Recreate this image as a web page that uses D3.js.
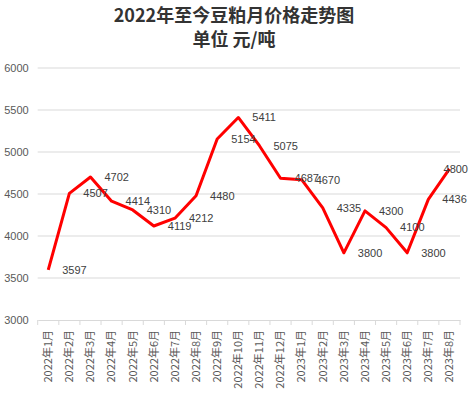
<!DOCTYPE html>
<meta charset="utf-8">
<style>
  body { margin: 0; background: #fff; }
</style>
<body>
<script src="https://cdn.jsdelivr.net/npm/d3@7"></script>
<script>

var months = ["2022年1月", "2022年2月", "2022年3月", "2022年4月", "2022年5月",
              "2022年6月", "2022年7月", "2022年8月", "2022年9月", "2022年10月",
              "2022年11月", "2022年12月", "2023年1月", "2023年2月", "2023年3月",
              "2023年4月", "2023年5月", "2023年6月", "2023年7月", "2023年8月"];
var prices = [3597, 4507, 4702, 4414, 4310, 4119, 4212, 4480, 5154, 5411,
              5075, 4687, 4670, 4335, 3800, 4300, 4100, 3800, 4436, 4800];
var yTicks = [3000, 3500, 4000, 4500, 5000, 5500, 6000];

var width = 475, height = 399;
var plotLeft = 37.7, plotRight = 460, plotTop = 68, plotBottom = 320;
var labelLimit = 468;   // data labels are kept inside the chart area

var svg = d3.select("body").append("svg")
            .attr("width", width)
            .attr("height", height);

var x = d3.scaleBand()
          .domain(months)
          .range([plotLeft, plotRight]);

var y = d3.scaleLinear()
          .domain([3000, 6000])
          .range([plotBottom, plotTop]);

// title
svg.append("text")
   .attr("x", 234)
   .attr("y", 22)
   .attr("text-anchor", "middle")
   .style("font-family", "'Noto Sans CJK SC'")
   .style("font-weight", "bold")
   .style("font-size", "18px")
   .attr("fill", "#333")
   .text("2022年至今豆粕月价格走势图");

svg.append("text")
   .attr("x", 234)
   .attr("y", 46)
   .attr("text-anchor", "middle")
   .style("font-family", "'Noto Sans CJK SC'")
   .style("font-weight", "bold")
   .style("font-size", "18px")
   .attr("fill", "#333")
   .text("单位 元/吨");

// gridlines
svg.append("g")
   .selectAll("line")
   .data(yTicks.filter(function(d){ return d > 3000; }))
   .enter().append("line")
   .attr("x1", plotLeft)
   .attr("x2", plotRight)
   .attr("y1", function(d){ return y(d); })
   .attr("y2", function(d){ return y(d); })
   .attr("stroke", "#d9d9d9")
   .attr("stroke-width", 1);

// y axis
var yAxis = svg.append("g")
   .attr("transform", "translate(" + plotLeft + ",0)")
   .call(d3.axisLeft(y).tickValues(yTicks).tickSize(0).tickPadding(9)
           .tickFormat(d3.format("d")));
yAxis.select(".domain").remove();
yAxis.selectAll("text")
     .style("font-family", "'Liberation Sans'")
     .style("font-size", "11px")
     .attr("fill", "#595959");

// x axis
var xAxis = svg.append("g")
   .attr("transform", "translate(0," + plotBottom + ")")
   .call(d3.axisBottom(x).tickSize(0));
xAxis.select(".domain").attr("stroke", "#d9d9d9");
xAxis.selectAll("g.tick line").remove();

xAxis.selectAll("line.sep")
     .data(d3.range(months.length + 1))
     .enter().append("line")
     .attr("class", "sep")
     .attr("x1", function(i){ return plotLeft + i * x.step(); })
     .attr("x2", function(i){ return plotLeft + i * x.step(); })
     .attr("y1", 0)
     .attr("y2", 5)
     .attr("stroke", "#d9d9d9");

xAxis.selectAll("g.tick text")
     .attr("transform", "rotate(-90)")
     .attr("x", -10)
     .attr("y", 0)
     .attr("dy", "0.35em")
     .attr("text-anchor", "end")
     .style("font-family", "'Noto Sans CJK SC'")
     .style("font-size", "11px")
     .attr("fill", "#595959");

// price line
var line = d3.line()
             .x(function(d, i){ return x(months[i]) + x.bandwidth() / 2; })
             .y(function(d){ return y(d); });

svg.append("path")
   .datum(prices)
   .attr("d", line)
   .attr("fill", "none")
   .attr("stroke", "#ff0000")
   .attr("stroke-width", 3)
   .attr("stroke-linejoin", "round");

// data labels, to the right of each point
svg.append("g")
   .selectAll("text")
   .data(prices)
   .enter().append("text")
   .attr("x", function(d, i){ return x(months[i]) + x.bandwidth() / 2 + 14; })
   .attr("y", function(d){ return y(d); })
   .attr("dy", "0.35em")
   .style("font-family", "'Liberation Sans'")
   .style("font-size", "11px")
   .attr("fill", "#404040")
   .text(function(d){ return d; })
   .each(function(){
      var t = d3.select(this);
      var w = this.getComputedTextLength();
      if (+t.attr("x") + w > labelLimit) t.attr("x", labelLimit - w);
   });

</script>
</body>
